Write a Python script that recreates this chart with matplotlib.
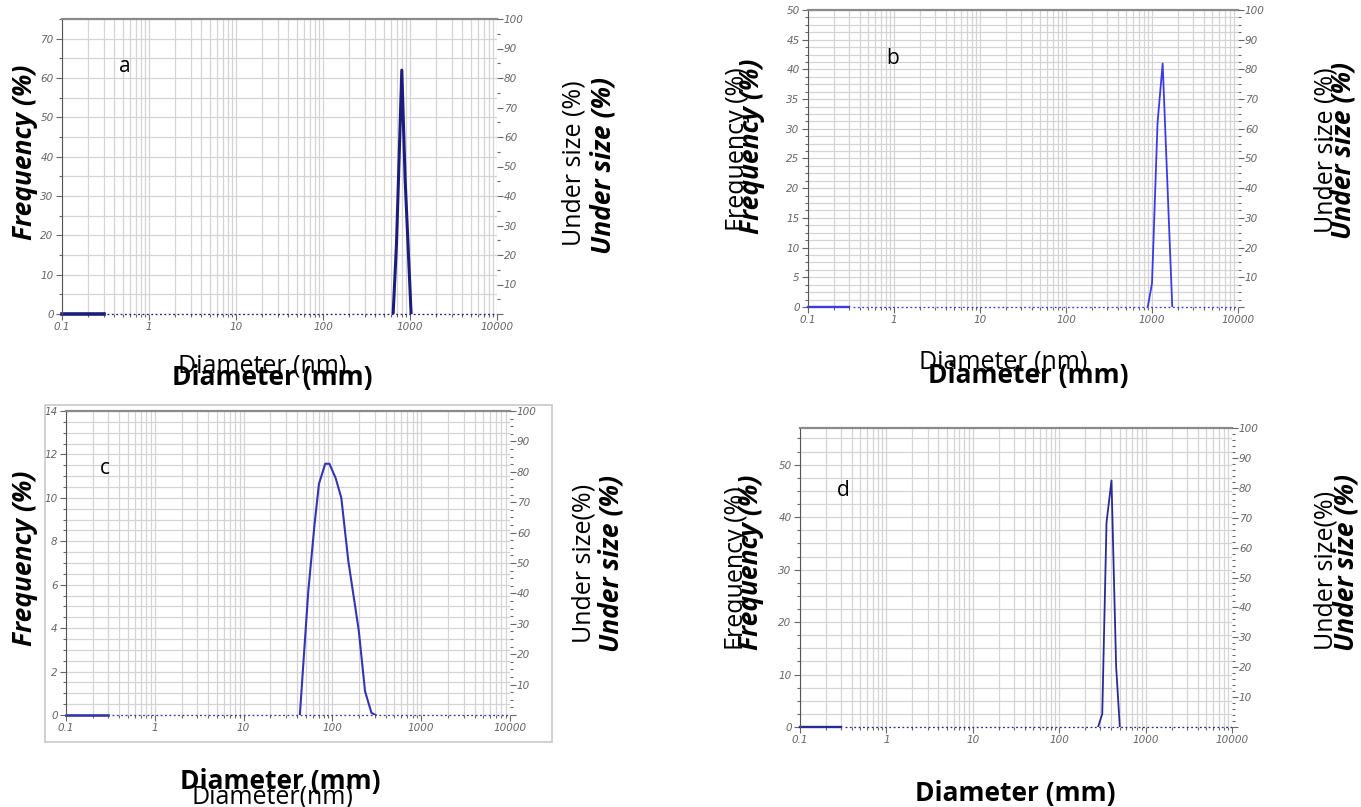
# Four particle size distribution panels (a-d): frequency vs diameter on a log axis,
# with an "under size" scale on the right, laid out like the scanned figure.

import matplotlib.pyplot as plt
from matplotlib.ticker import MultipleLocator, LogLocator, NullFormatter, FixedLocator
from matplotlib.patches import Rectangle

W, H = 1361, 807

# peak curves (diameter, frequency %)
a_diam = [640, 700, 805, 880, 1030]
a_freq = [0, 18, 62, 34, 0]

b_diam = [893, 1000, 1160, 1330, 1720]
b_freq = [0, 4, 31, 41, 0]

c_diam = [43, 53.5, 63, 70.6, 83, 92.6, 109, 126, 151, 198, 233, 275, 306]
c_freq = [0, 5.7, 8.8, 10.65, 11.57, 11.57, 10.9, 10.0, 7.1, 3.9, 1.1, 0.1, 0]

d_diam = [282, 315, 353, 403, 456, 503]
d_freq = [0, 2.5, 39, 47, 11.5, 0]

x_ticks = [0.1, 1, 10, 100, 1000, 10000]
x_labels = ["0.1", "1", "10", "100", "1000", "10000"]
right_ticks = list(range(0, 101, 10))
right_labels = [""] + [str(v) for v in right_ticks[1:]]

TICK_COLOR = "#666666"
GRID_COLOR = "#d4d4d4"
LABEL_FONT = "Open Sans"


def fx(x):
    return x / W


def fy(y):
    return 1 - y / H


def panel(fig, box, diam, freq, ymax, ymajor, yminor, rminor, color, lw):
    left, top, right, bottom = box
    ax = fig.add_axes([fx(left), fy(bottom), (right - left) / W, (bottom - top) / H])
    ax.set_xscale("log")
    ax.set_xlim(0.1, 10000)
    ax.set_ylim(0, ymax)

    ax.xaxis.set_major_locator(FixedLocator(x_ticks))
    ax.set_xticklabels(x_labels)
    ax.xaxis.set_minor_locator(LogLocator(base=10, subs=range(2, 10), numticks=20))
    ax.xaxis.set_minor_formatter(NullFormatter())
    ax.yaxis.set_major_locator(MultipleLocator(ymajor))
    ax.yaxis.set_minor_locator(MultipleLocator(yminor))

    # vertical lines on every decade step, horizontal lines on the fine steps
    ax.grid(True, which="both", axis="both", color=GRID_COLOR, lw=0.9)
    ax.set_axisbelow(True)

    ax.tick_params(axis="both", which="major", labelsize=7.5, colors=TICK_COLOR,
                   length=4, width=0.8, pad=2)
    ax.tick_params(axis="both", which="minor", length=2, width=0.8, colors=TICK_COLOR)
    for lab in ax.get_xticklabels() + ax.get_yticklabels():
        lab.set_fontstyle("italic")

    for side in ("right", "bottom"):
        ax.spines[side].set_visible(False)
    ax.spines["left"].set_color("#555555")
    ax.spines["top"].set_color("#8a8a8a")
    ax.spines["top"].set_linewidth(1.6)

    # baseline: solid stub at the start, dotted along the rest
    ax.plot([0.1, 0.3], [0, 0], color=color, lw=lw + 0.4, clip_on=False)
    ax.plot([0.33, 10000], [0, 0], color=color, lw=0.9, ls=(0, (1.5, 2)), clip_on=False)
    ax.plot(diam, freq, color=color, lw=lw)

    ax2 = ax.twinx()
    ax2.set_ylim(0, 100)
    ax2.yaxis.set_major_locator(FixedLocator(right_ticks))
    ax2.set_yticklabels(right_labels)
    ax2.yaxis.set_minor_locator(MultipleLocator(rminor))
    ax2.tick_params(axis="y", which="major", labelsize=7.5, colors=TICK_COLOR,
                    length=4, width=0.8, pad=1)
    ax2.tick_params(axis="y", which="minor", length=2, width=0.8, colors=TICK_COLOR)
    for lab in ax2.get_yticklabels():
        lab.set_fontstyle("italic")
    for s in ax2.spines.values():
        s.set_visible(False)
    return ax


def label(fig, x, y, text, bold=False, rot=0, size=18):
    fig.text(fx(x), fy(y), text, rotation=rot, ha="center", va="center",
             fontsize=size, family=LABEL_FONT,
             fontweight="bold" if bold else "normal",
             fontstyle="italic" if (bold and rot) else "normal")


fig = plt.figure(figsize=(W / 100, H / 100), dpi=100)

# screenshot frame around panel c
fig.patches.append(Rectangle((fx(45), fy(742)), (552 - 45) / W, (742 - 405) / H,
                             transform=fig.transFigure, fill=False,
                             edgecolor="#c8c8c8", lw=1.2))

panel(fig, (62, 19, 497, 314), a_diam, a_freq, 75, 10, 5, 5, "#1c1c7c", 2.2)
panel(fig, (808, 10, 1238, 307), b_diam, b_freq, 50, 5, 1.25, 2.5, "#3b3be6", 1.3)
panel(fig, (66, 411, 510, 715), c_diam, c_freq, 14, 2, 0.5, 2.5, "#3434b4", 1.5)
panel(fig, (800, 428, 1232, 727), d_diam, d_freq, 57, 10, 2.5, 2, "#2a2a94", 1.3)

# panel letters
label(fig, 125, 67, "a", size=15)
label(fig, 893, 58, "b", size=15)
label(fig, 105, 468, "c", size=15)
label(fig, 843, 490, "d", size=15)

# panel a
label(fig, 25, 152, "Frequency (%)", bold=True, rot=90, size=19)
label(fig, 574, 163, "Under size (%)", rot=90, size=18)
label(fig, 603, 165, "Under size (%)", bold=True, rot=90, size=19)
label(fig, 262, 366, "Diameter (nm)", size=18)
label(fig, 272, 377, "Diameter (mm)", bold=True, size=19)

# panel b
label(fig, 738, 149, "Frequency (%)", rot=90, size=18)
label(fig, 752, 146, "Frequency (%)", bold=True, rot=90, size=19)
label(fig, 1326, 150, "Under size (%)", rot=90, size=18)
label(fig, 1343, 150, "Under size (%)", bold=True, rot=90, size=19)
label(fig, 1003, 362, "Diameter (nm)", size=18)
label(fig, 1028, 375, "Diameter (mm)", bold=True, size=19)

# panel c
label(fig, 25, 558, "Frequency (%)", bold=True, rot=90, size=19)
label(fig, 584, 563, "Under size(%)", rot=90, size=18)
label(fig, 611, 563, "Under size (%)", bold=True, rot=90, size=19)
label(fig, 280, 781, "Diameter (mm)", bold=True, size=19)
label(fig, 272, 797, "Diameter(nm)", size=18)

# panel d
label(fig, 737, 568, "Frequency (%)", rot=90, size=18)
label(fig, 751, 562, "Frequency (%)", bold=True, rot=90, size=19)
label(fig, 1326, 570, "Under size(%)", rot=90, size=18)
label(fig, 1346, 562, "Under size (%)", bold=True, rot=90, size=19)
label(fig, 1015, 794, "Diameter (mm)", bold=True, size=19)

fig.savefig("out.png", dpi=100)
